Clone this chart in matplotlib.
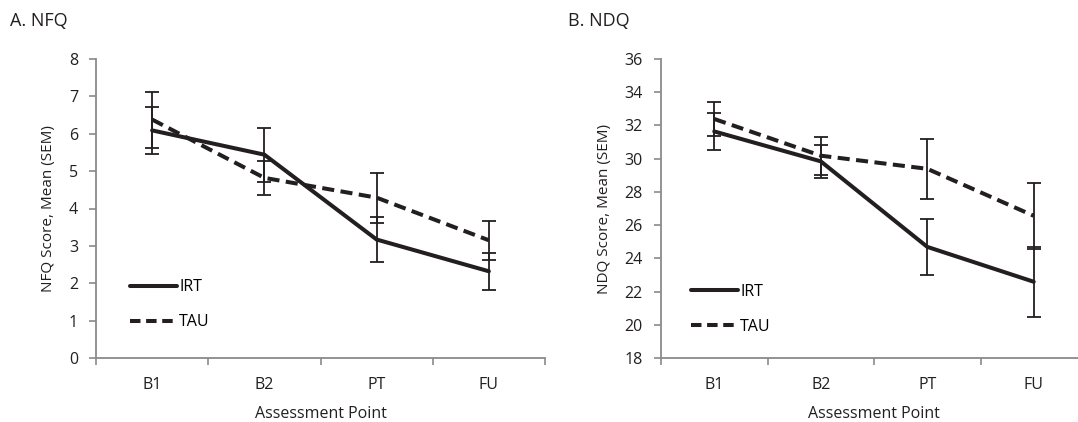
import matplotlib
matplotlib.use("Agg")
import matplotlib.pyplot as plt
from matplotlib.lines import Line2D

# =============================================================================
# DATA
# =============================================================================
points = ["B1", "B2", "PT", "FU"]

nfq_irt = [6.09, 5.44, 3.17, 2.32]
nfq_irt_sem = [0.63, 0.72, 0.61, 0.50]
nfq_tau = [6.38, 4.82, 4.29, 3.15]
nfq_tau_sem = [0.75, 0.46, 0.67, 0.52]

ndq_irt = [31.64, 29.84, 24.69, 22.59]
ndq_irt_sem = [1.10, 1.00, 1.67, 2.12]
ndq_tau = [32.39, 30.18, 29.39, 26.56]
ndq_tau_sem = [1.05, 1.15, 1.82, 2.00]

nfq_ticks = list(range(0, 9))
ndq_ticks = list(range(18, 37, 2))

# =============================================================================
# STYLE
# =============================================================================
plt.rcParams['font.family'] = ['Open Sans', 'DejaVu Sans']
plt.rcParams['font.size'] = 11.5

INK = '#231f20'
AXIS_GREY = '#8a8a8c'
TEXT = '#231f20'


def draw_panel(ax, irt, irt_sem, tau, tau_sem, yticks, ylabel, legend_anchor):
    x = [i + 0.5 for i in range(len(points))]

    ax.plot(x, irt, color=INK, lw=2.9, solid_capstyle='round',
            solid_joinstyle='miter', label='IRT', zorder=3)
    ax.plot(x, tau, color=INK, lw=2.9, linestyle=(0, (3.0, 1.6)),
            dash_capstyle='butt', label='TAU', zorder=3)

    ax.errorbar(x, irt, yerr=irt_sem, fmt='none', ecolor=INK,
                elinewidth=1.3, capsize=5, capthick=1.3, zorder=4)
    ax.errorbar(x, tau, yerr=tau_sem, fmt='none', ecolor=INK,
                elinewidth=1.3, capsize=5, capthick=1.3, zorder=4)

    ax.set_xlim(0, len(points))
    ax.set_ylim(yticks[0], yticks[-1])
    ax.set_yticks(yticks)

    # category boundaries carry the tick marks, centres carry the labels
    ax.set_xticks(range(len(points) + 1))
    ax.set_xticklabels([])
    ax.set_xticks(x, minor=True)
    ax.set_xticklabels(points, minor=True)
    ax.tick_params(axis='x', which='minor', length=0, pad=14, colors=TEXT)
    ax.tick_params(axis='x', which='major', length=5, width=1.2,
                   color=AXIS_GREY, direction='out')
    ax.tick_params(axis='y', length=5, width=1.2, color=AXIS_GREY,
                   labelcolor=TEXT, pad=8)

    for side in ['top', 'right']:
        ax.spines[side].set_visible(False)
    for side in ['left', 'bottom']:
        ax.spines[side].set_color(AXIS_GREY)
        ax.spines[side].set_linewidth(1.3)

    ax.set_xlabel('Assessment Point', labelpad=9, color=TEXT)
    ax.set_ylabel(ylabel, labelpad=9, color=TEXT, fontsize=11)

    handles = [
        Line2D([], [], color=INK, lw=2.9, solid_capstyle='round'),
        Line2D([], [], color=INK, lw=2.9, linestyle=(0, (2.6, 1.4)),
               dash_capstyle='butt'),
    ]
    ax.legend(handles, ['IRT', 'TAU'], loc='lower left',
              bbox_to_anchor=legend_anchor, frameon=False, borderpad=0,
              borderaxespad=0, handlelength=2.95, handletextpad=0.15,
              labelspacing=1.2, fontsize=11.5)


fig = plt.figure(figsize=(10.78, 4.22), dpi=100)

# right panel is cut off by the image edge in the reference
ax_a = fig.add_axes([96 / 1078, 1 - 358 / 422, 449 / 1078, 299 / 422])
ax_b = fig.add_axes([661 / 1078, 1 - 358 / 422, 426 / 1078, 299 / 422])

draw_panel(ax_a, nfq_irt, nfq_irt_sem, nfq_tau, nfq_tau_sem, nfq_ticks,
           'NFQ Score, Mean (SEM)', (0.075, 0.092))
draw_panel(ax_b, ndq_irt, ndq_irt_sem, ndq_tau, ndq_tau_sem, ndq_ticks,
           'NDQ Score, Mean (SEM)', (0.07, 0.077))

fig.text(10 / 1078, 1 - 21 / 422, 'A. NFQ', fontsize=13, va='center',
         ha='left', color=TEXT)
fig.text(568 / 1078, 1 - 21 / 422, 'B. NDQ', fontsize=13, va='center',
         ha='left', color=TEXT)

fig.savefig('out.png', dpi=100)
